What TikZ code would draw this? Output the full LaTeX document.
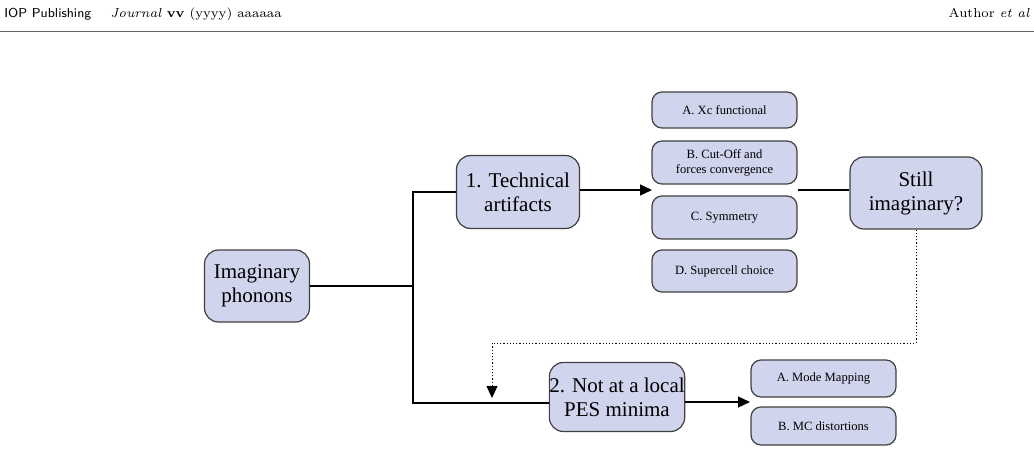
\documentclass[tikz,border=0pt]{standalone}
\usepackage{fontspec}
\newfontfamily\boxfont{Liberation Serif}
\usetikzlibrary{arrows.meta,positioning}
\definecolor{boxfill}{RGB}{208,212,236}
\tikzset{
  stage/.style={draw=black!75,fill=boxfill,rounded corners=7pt,semithick,align=center,
    font=\boxfont\fontsize{10.5}{12}\selectfont,inner sep=0pt},
  check/.style={draw=black!75,fill=boxfill,rounded corners=5pt,semithick,align=center,
    font=\boxfont\fontsize{6.3}{7.5}\selectfont,inner sep=0pt,minimum width=72.5pt},
  link/.style={draw=black,semithick},
  tip/.style={-{Triangle[length=6pt,width=5.5pt]}}
}
\begin{document}
\begin{tikzpicture}[x=0.5pt,y=-0.5pt]
\useasboundingbox (0,0) rectangle (1034,460);
% header
\node[anchor=base west,inner sep=0pt,font=\sffamily\fontsize{6.5}{7}\selectfont] (iop) at (4,18) {IOP Publishing};
\node[anchor=base west,inner sep=0pt,font=\fontsize{6.5}{7}\selectfont] (jour) at (110,18) {\textit{Journal} \textbf{vv} (yyyy) aaaaaa};
\node[anchor=base east,inner sep=0pt,font=\fontsize{6.5}{7}\selectfont] (auth) at (1030,18) {Author \textit{et al}};
\draw[black!60,thin] (0,31) -- (1034,31);
% main boxes
\node[stage,minimum width=52.5pt,minimum height=36pt] (imag) at (257,286) {Imaginary\\phonons};
\node[stage,minimum width=61.5pt,minimum height=36.5pt] (tech) at (518,192) {1. Technical\\artifacts};
\node[stage,minimum width=66pt,minimum height=36pt] (still) at (916,193) {Still\\imaginary?};
\node[stage,minimum width=62.5pt,minimum height=34.5pt] (pes) at (617,397) {2. Not at a local\\PES minima};
% checks
\node[check,minimum height=18pt] (xc) at (724.5,110) {A. Xc functional};
\node[check,minimum height=21.5pt] (cut) at (724.5,162.5) {B. Cut-Off and\\forces convergence};
\node[check,minimum height=21.5pt] (sym) at (724.5,217.5) {C. Symmetry};
\node[check,minimum height=21pt] (super) at (724.5,271) {D. Supercell choice};
\node[check,minimum height=18.5pt] (mode) at (823.5,378.5) {A. Mode Mapping};
\node[check,minimum height=19pt] (mc) at (823.5,426) {B. MC distortions};
% connectors
\coordinate (split) at (413,286);
\coordinate (mid) at (652,190);
\coordinate (low) at (750,402);
\draw[link] (imag.east) -- (split);
\draw[link] (tech.west) -| (split) |- (pes.west |- 0,403);
\draw[link,tip] (tech.east |- mid) -- (mid);
\draw[link] (cut.east |- 0,190) -- (still.west |- 0,190);
\draw[link,tip] (pes.east |- low) -- (low);
\coordinate (turn) at (492,343);
\draw[link,densely dotted,thin,tip] (still.south) |- (turn) -- (492,398);
\end{tikzpicture}
\end{document}
